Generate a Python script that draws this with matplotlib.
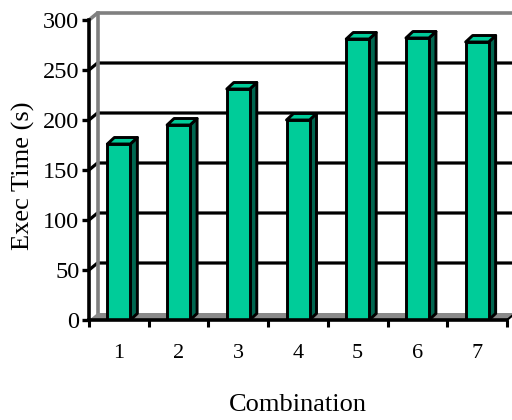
import matplotlib
matplotlib.use("Agg")
import matplotlib.pyplot as plt
from matplotlib.patches import Polygon

plt.rcParams["font.family"] = ["Liberation Serif", "DejaVu Serif"]

# Data
combinations = ["1", "2", "3", "4", "5", "6", "7"]
exec_time = [176, 195, 231, 200, 281, 282, 278]
y_ticks = [0, 50, 100, 150, 200, 250, 300]

front_color = "#00CC99"
side_color = "#006650"
wall_gray = "#808080"
floor_gray = "#8A8A8A"

W, H, DPI = 512, 420, 100
fig = plt.figure(figsize=(W / DPI, H / DPI), dpi=DPI)
ax_left, ax_right, ax_top, ax_bottom = 89, 507, 20, 320
ax = fig.add_axes([ax_left / W, (H - ax_bottom) / H,
                   (ax_right - ax_left) / W, (ax_bottom - ax_top) / H])

n = len(combinations)
xs = list(range(1, n + 1))
x0, x1 = 0.5, n + 0.5
ax.set_xlim(x0, x1)
ax.set_ylim(0, 300)

# pixel -> data conversions for the pseudo-3D depth
ppx = (ax_right - ax_left) / (x1 - x0)
ppy = (ax_bottom - ax_top) / 300.0
wdx, wdy = 8.5 / ppx, 7.0 / ppy      # back wall depth
bdx, bdy = 7.0 / ppx, 6.5 / ppy      # bar depth
bar_w = 23.0 / ppx

# back wall gridlines
for v in y_ticks[1:-1]:
    ax.plot([x0, x0 + wdx, x1 + 1], [v, v + wdy, v + wdy], color="black",
            lw=2.3, clip_on=False, zorder=1, solid_capstyle="butt")
# top edge and left edge of the wall
ax.plot([x0, x0 + wdx, x1 + 1], [300, 300 + wdy, 300 + wdy], color=wall_gray,
        lw=2.6, clip_on=False, zorder=1)
ax.plot([x0 + wdx, x0 + wdx], [wdy, 300 + wdy], color=wall_gray,
        lw=2.6, clip_on=False, zorder=1)

# floor
floor = Polygon([(x0, 0), (x1, 0), (x1 + wdx, wdy), (x0 + wdx, wdy)],
                closed=True, facecolor=floor_gray, edgecolor="none",
                zorder=1.5, clip_on=False)
ax.add_patch(floor)
ax.plot([x1, x1 + wdx], [0, wdy], color="black", lw=1.5, clip_on=False, zorder=2)

# bars: side and top faces, then front faces
for x, v in zip(xs, exec_time):
    l, r = x - bar_w / 2, x + bar_w / 2
    side = Polygon([(r, 0), (r + bdx, bdy), (r + bdx, v + bdy), (r, v)],
                   closed=True, facecolor=side_color, edgecolor="black",
                   lw=2.1, zorder=4, joinstyle="round")
    top = Polygon([(l, v), (r, v), (r + bdx, v + bdy), (l + bdx, v + bdy)],
                  closed=True, facecolor=front_color, edgecolor="black",
                  lw=2.1, zorder=4, joinstyle="round")
    ax.add_patch(side)
    ax.add_patch(top)
ax.bar(xs, exec_time, width=bar_w, color=front_color, edgecolor="black",
       linewidth=2.1, zorder=5)

# axes
for s in ["top", "right"]:
    ax.spines[s].set_visible(False)
for s in ["left", "bottom"]:
    ax.spines[s].set_linewidth(2.6)
    ax.spines[s].set_zorder(6)

ax.set_yticks(y_ticks)
ax.set_yticklabels([str(t) for t in y_ticks], fontsize=17.5)
ax.tick_params(axis="y", direction="out", length=5, width=2.4, pad=2)

ax.set_xticks([x0 + i for i in range(n + 1)])
ax.set_xticklabels([])
ax.tick_params(axis="x", which="major", direction="out", length=5, width=2.2)
ax.set_xticks(xs, minor=True)
ax.set_xticklabels(combinations, minor=True, fontsize=16)
ax.tick_params(axis="x", which="minor", length=0, pad=17)

ax.set_xlabel("Combination", fontsize=19)
ax.xaxis.label.set_va("baseline")
ax.xaxis.set_label_coords(0.5, -(411 - ax_bottom) / (ax_bottom - ax_top))
ax.set_ylabel("Exec Time (s)", fontsize=19)
ax.yaxis.label.set_va("center")
ax.yaxis.set_label_coords((23 - ax_left) / (ax_right - ax_left), 0.48)

ax.patch.set_alpha(0)
fig.savefig("out.png", dpi=DPI)
